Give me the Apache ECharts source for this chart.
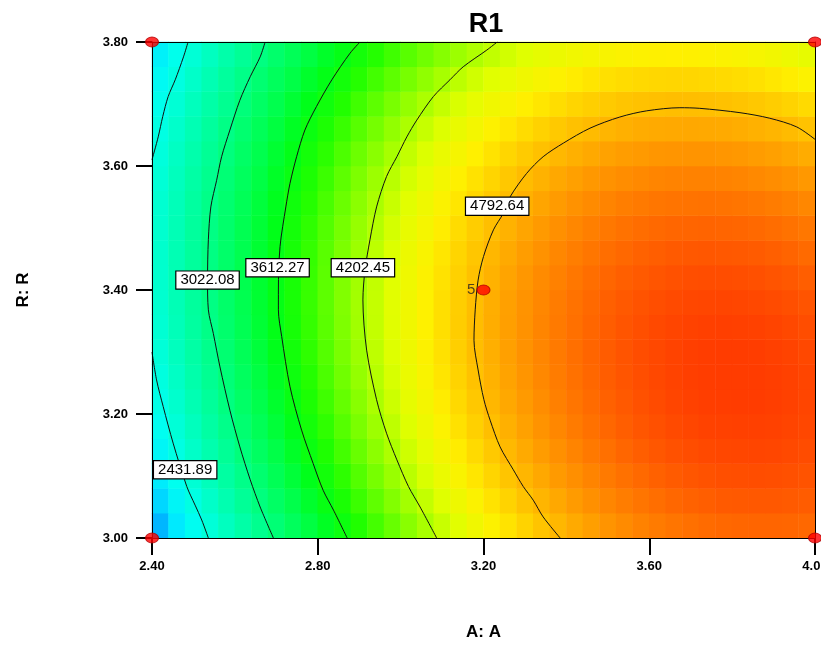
<!DOCTYPE html>
<html><head><meta charset="utf-8">
<script src="https://cdn.jsdelivr.net/npm/echarts@6/dist/echarts.min.js"></script>
<style>html,body{margin:0;padding:0;background:#fff}#c{width:821px;height:647px}</style>
</head><body><div id="c"></div>
<script>
const titleText = 'R1';
const xName = 'A: A';
const yName = 'R: R';
// cell centres of the response grid
const aCells = [2.42,2.46,2.50,2.54,2.58,2.62,2.66,2.70,2.74,2.78,2.82,2.86,2.90,2.94,2.98,3.02,3.06,3.10,3.14,3.18,3.22,3.26,3.30,3.34,3.38,3.42,3.46,3.50,3.54,3.58,3.62,3.66,3.70,3.74,3.78,3.82,3.86,3.90,3.94,3.98];
const bCells = [3.02,3.06,3.10,3.14,3.18,3.22,3.26,3.30,3.34,3.38,3.42,3.46,3.50,3.54,3.58,3.62,3.66,3.70,3.74,3.78];
// R1 estimated per cell, rows from B=3.02 (bottom) to B=3.78 (top)
const r1Rows = [
[1994,2167,2334,2497,2655,2809,2957,3101,3240,3374,3503,3628,3748,3863,3973,4078,4179,4274,4365,4451,4533,4609,4681,4748,4810,4867,4920,4967,5010,5049,5082,5110,5134,5153,5167,5176,5181,5181,5176,5166],
[2096,2267,2433,2595,2752,2904,3051,3193,3331,3464,3592,3715,3833,3947,4056,4160,4259,4353,4443,4527,4607,4683,4753,4819,4879,4935,4986,5033,5074,5111,5143,5170,5193,5210,5223,5231,5234,5233,5226,5215],
[2188,2358,2523,2683,2838,2989,3135,3276,3412,3543,3670,3792,3909,4021,4129,4231,4329,4422,4510,4594,4672,4746,4815,4879,4939,4993,5043,5088,5129,5164,5195,5220,5241,5258,5269,5276,5278,5275,5267,5254],
[2270,2438,2602,2761,2915,3064,3209,3348,3483,3613,3739,3859,3975,4086,4192,4293,4389,4481,4568,4650,4727,4800,4867,4930,4988,5042,5090,5134,5173,5207,5236,5261,5280,5295,5305,5310,5311,5307,5297,5284],
[2342,2509,2671,2829,2982,3129,3273,3411,3544,3673,3797,3916,4031,4140,4245,4345,4440,4530,4616,4696,4772,4843,4910,4971,5028,5080,5127,5169,5207,5240,5268,5291,5309,5323,5331,5335,5334,5329,5318,5303],
[2404,2570,2731,2887,3038,3185,3326,3463,3596,3723,3846,3963,4076,4185,4288,4386,4480,4569,4653,4733,4807,4877,4942,5002,5058,5108,5154,5195,5231,5263,5289,5311,5328,5340,5347,5350,5348,5341,5329,5312],
[2456,2620,2780,2935,3085,3230,3370,3506,3637,3763,3884,4001,4112,4219,4321,4418,4511,4598,4681,4759,4832,4901,4964,5023,5077,5126,5171,5211,5245,5275,5301,5321,5337,5347,5354,5355,5351,5343,5330,5312],
[2498,2661,2819,2973,3121,3265,3404,3539,3668,3793,3913,4028,4138,4244,4344,4440,4531,4617,4699,4776,4847,4915,4977,5034,5087,5135,5178,5216,5250,5278,5302,5321,5336,5345,5350,5350,5345,5335,5320,5301],
[2530,2692,2849,3001,3148,3291,3429,3561,3690,3813,3931,4045,4154,4258,4358,4452,4542,4627,4707,4782,4853,4918,4979,5035,5087,5133,5175,5212,5244,5271,5294,5312,5325,5333,5336,5335,5328,5317,5301,5281],
[2552,2713,2868,3019,3165,3306,3443,3574,3701,3823,3940,4052,4160,4263,4361,4454,4542,4626,4705,4779,4848,4912,4972,5027,5077,5122,5162,5198,5228,5254,5276,5292,5304,5310,5312,5309,5302,5289,5272,5250],
[2565,2724,2878,3027,3172,3312,3447,3577,3702,3823,3939,4050,4156,4257,4354,4446,4533,4615,4693,4765,4833,4896,4954,5008,5056,5100,5139,5173,5203,5227,5247,5262,5273,5278,5279,5274,5265,5252,5233,5210],
[2567,2724,2877,3025,3169,3307,3441,3570,3694,3813,3928,4037,4142,4242,4337,4428,4514,4594,4671,4742,4808,4870,4927,4979,5026,5069,5106,5139,5167,5191,5209,5223,5232,5236,5235,5229,5219,5204,5184,5159],
[2559,2715,2867,3014,3156,3293,3425,3553,3675,3793,3906,4015,4118,4217,4311,4400,4484,4564,4639,4708,4774,4834,4889,4940,4986,5027,5064,5095,5122,5144,5161,5173,5181,5183,5181,5174,5163,5146,5125,5099],
[2541,2696,2847,2992,3133,3268,3399,3525,3647,3763,3875,3982,4084,4182,4274,4362,4445,4523,4597,4665,4729,4788,4842,4891,4936,4976,5011,5041,5066,5087,5103,5114,5120,5121,5118,5110,5097,5079,5056,5029],
[2514,2667,2816,2960,3100,3234,3364,3488,3608,3724,3834,3940,4041,4137,4228,4314,4396,4473,4545,4612,4674,4732,4785,4833,4876,4914,4948,4977,5001,5020,5035,5044,5049,5049,5044,5035,5020,5001,4977,4948],
[2476,2629,2776,2919,3057,3190,3318,3441,3560,3674,3783,3887,3987,4081,4171,4256,4337,4412,4483,4549,4610,4666,4718,4764,4806,4843,4875,4903,4926,4943,4957,4965,4968,4967,4961,4950,4934,4914,4888,4858],
[2429,2580,2726,2867,3004,3135,3262,3384,3502,3614,3722,3825,3923,4016,4105,4189,4268,4342,4411,4475,4535,4590,4640,4686,4726,4762,4793,4819,4840,4857,4868,4875,4878,4875,4867,4855,4838,4816,4789,4758],
[2371,2521,2666,2806,2941,3071,3197,3317,3433,3545,3651,3753,3849,3941,4028,4111,4188,4261,4329,4392,4451,4504,4553,4597,4636,4671,4700,4725,4745,4760,4770,4776,4777,4773,4764,4750,4732,4709,4681,4648],
[2304,2452,2595,2734,2868,2997,3121,3241,3355,3465,3570,3670,3766,3856,3942,4023,4099,4171,4237,4299,4356,4408,4456,4499,4536,4569,4598,4621,4640,4653,4663,4667,4666,4661,4651,4636,4616,4591,4562,4528],
[2226,2373,2515,2653,2785,2913,3036,3154,3267,3375,3479,3578,3672,3761,3846,3926,4000,4070,4136,4196,4252,4303,4349,4390,4427,4458,4485,4507,4524,4537,4545,4548,4546,4539,4527,4511,4490,4464,4433,4398]
];
// contour lines, [A, B]
const contour2431a = [[2.487,3.800],[2.476,3.776],[2.456,3.739],[2.439,3.712],[2.426,3.680],[2.415,3.647],[2.400,3.610]];
const contour2431b = [[2.400,3.300],[2.411,3.255],[2.427,3.212],[2.451,3.153],[2.484,3.083],[2.504,3.053],[2.520,3.029],[2.536,3.000]];
const contour3022 = [[2.673,3.800],[2.661,3.776],[2.637,3.744],[2.612,3.706],[2.588,3.658],[2.568,3.615],[2.556,3.577],[2.542,3.534],[2.536,3.481],[2.534,3.416],[2.536,3.368],[2.548,3.330],[2.564,3.276],[2.588,3.206],[2.612,3.147],[2.637,3.094],[2.661,3.050],[2.693,3.000]];
const contour3612 = [[2.902,3.800],[2.878,3.782],[2.834,3.739],[2.797,3.696],[2.769,3.658],[2.749,3.615],[2.733,3.572],[2.723,3.534],[2.709,3.470],[2.705,3.400],[2.705,3.368],[2.713,3.325],[2.733,3.244],[2.761,3.174],[2.789,3.120],[2.813,3.077],[2.838,3.045],[2.871,3.000]];
const contour4202 = [[3.233,3.800],[3.208,3.787],[3.151,3.760],[3.119,3.739],[3.079,3.712],[3.039,3.674],[3.015,3.647],[2.991,3.615],[2.966,3.583],[2.942,3.534],[2.926,3.481],[2.914,3.432],[2.909,3.384],[2.918,3.303],[2.942,3.223],[2.966,3.169],[2.991,3.126],[3.019,3.083],[3.047,3.050],[3.087,3.000]];
const contour4792 = [[4.000,3.643],[3.956,3.663],[3.891,3.677],[3.819,3.686],[3.722,3.693],[3.674,3.694],[3.594,3.689],[3.529,3.679],[3.457,3.661],[3.393,3.637],[3.344,3.615],[3.304,3.588],[3.264,3.550],[3.248,3.524],[3.224,3.497],[3.200,3.454],[3.187,3.416],[3.180,3.368],[3.177,3.319],[3.187,3.271],[3.201,3.223],[3.216,3.190],[3.240,3.147],[3.272,3.110],[3.296,3.083],[3.320,3.061],[3.344,3.034],[3.385,3.000]];
const contourLabels = ['2431.89','3022.08','3612.27','4202.45','4792.64'];
const contourLabelPos = [[2.480,3.110],[2.534,3.416],[2.703,3.436],[2.909,3.436],[3.233,3.535]];
const designPoints = [[2.40,3.00],[2.40,3.80],[4.00,3.80],[4.00,3.00],[3.20,3.40]];
const designLabels = ['','','','','5'];
const colorMin = 1950, colorMax = 5350;
const palette = ['#00A8FF','#00E8FF','#00FFF0','#00FFD0','#00FFB0','#00FF90','#00FF6C','#00FF48','#00FF18','#20FF00','#60FF00','#A0FF00','#E0FF00','#FFF000','#FFC400','#FF9800','#FF6C00','#FF3C00'];

const heatData = [];
r1Rows.forEach((row, j) => row.forEach((v, k) => heatData.push([k, j, v])));

const font = 'Liberation Sans, Arial, sans-serif';
const contourSets = [contour2431a, contour2431b, contour3022, contour3612, contour4202, contour4792];
const lineSeries = contourSets.map(d => ({
  type: 'line', xAxisIndex: 0, yAxisIndex: 0, data: d, symbol: 'none', smooth: 0.3,
  lineStyle: { color: '#111', width: 1 }, clip: false, silent: true, z: 3, animation: false
}));

const chart = echarts.init(document.getElementById('c'), null, { renderer: 'canvas' });
chart.setOption({
  backgroundColor: '#fff',
  animation: false,
  title: { text: titleText, left: 481, top: 6, textAlign: 'center',
    textStyle: { fontFamily: font, fontSize: 27, fontWeight: 'bold', color: '#000' } },
  grid: { left: 152, top: 42, width: 663, height: 496, show: false, containLabel: false, outerBoundsMode: 'none' },
  visualMap: { type: 'continuous', show: false, seriesIndex: 0, min: colorMin, max: colorMax,
    inRange: { color: palette } },
  xAxis: [
    { type: 'value', position: 'bottom', min: 2.4, max: 4.0, interval: 0.4, z: 10,
      axisLine: { show: true, onZero: false, lineStyle: { color: '#000', width: 1 } },
      axisTick: { show: true, length: 17, lineStyle: { color: '#000', width: 2 } },
      axisLabel: { margin: 22, color: '#000', fontFamily: font, fontSize: 13, fontWeight: 'bold',
        formatter: v => v.toFixed(2) },
      splitLine: { show: false },
      name: xName, nameLocation: 'middle', nameGap: 86,
      nameTextStyle: { fontFamily: font, fontSize: 17, fontWeight: 'bold', color: '#000' } },
    { type: 'category', position: 'top', data: aCells, z: 10,
      axisLine: { show: true, lineStyle: { color: '#000', width: 1 } },
      axisTick: { show: false }, axisLabel: { show: false }, splitLine: { show: false } }
  ],
  yAxis: [
    { type: 'value', position: 'left', min: 3.0, max: 3.8, interval: 0.2, z: 10,
      axisLine: { show: true, onZero: false, lineStyle: { color: '#000', width: 1 } },
      axisTick: { show: true, length: 16, lineStyle: { color: '#000', width: 2 } },
      axisLabel: { margin: 24, color: '#000', fontFamily: font, fontSize: 13, fontWeight: 'bold',
        formatter: v => v.toFixed(2) },
      splitLine: { show: false },
      name: yName, nameLocation: 'middle', nameGap: 120,
      nameTextStyle: { fontFamily: font, fontSize: 17, fontWeight: 'bold', color: '#000' } },
    { type: 'category', position: 'right', data: bCells, z: 10,
      axisLine: { show: true, lineStyle: { color: '#000', width: 1 } },
      axisTick: { show: false }, axisLabel: { show: false }, splitLine: { show: false } }
  ],
  series: [
    { type: 'heatmap', xAxisIndex: 1, yAxisIndex: 1, data: heatData, z: 1,
      emphasis: { disabled: true }, progressive: 0, silent: true },
    ...lineSeries,
    { type: 'scatter', xAxisIndex: 0, yAxisIndex: 0, z: 6, silent: true, clip: false,
      symbol: 'rect', symbolSize: 0, itemStyle: { color: '#fff', opacity: 1 },
      emphasis: { disabled: true },
      data: contourLabelPos.map((p, i) => ({ value: p, name: contourLabels[i] })),
      label: { show: true, position: 'inside', formatter: '{b}', color: '#000', opacity: 1,
        fontFamily: font, fontSize: 15, lineHeight: 15, backgroundColor: '#ffffff',
        borderColor: '#000', borderWidth: 1.2, padding: [1, 4, 1, 4] } },
    { type: 'scatter', xAxisIndex: 0, yAxisIndex: 0, z: 20, silent: true, clip: false,
      symbol: 'circle', symbolSize: [13, 10],
      itemStyle: { color: '#FF0000', borderColor: '#B00000', borderWidth: 1 },
      data: designPoints.map((p, i) => ({ value: p, name: designLabels[i] })),
      label: { show: true, position: 'left', distance: 1, formatter: '{b}', color: '#222',
        fontFamily: font, fontSize: 15 } }
  ]
});
</script></body></html>
